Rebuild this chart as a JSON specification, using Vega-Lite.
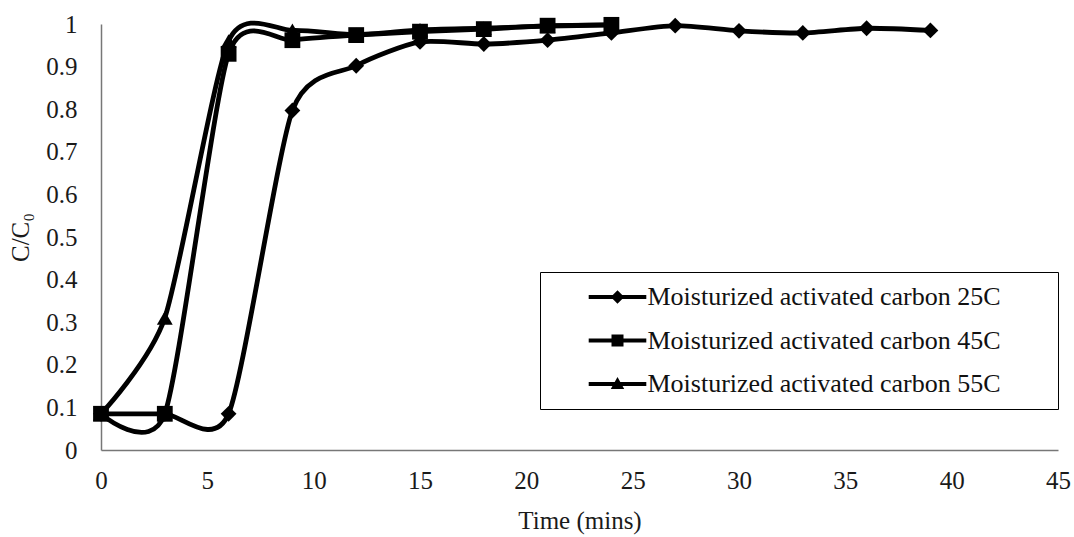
{
  "$schema": "https://vega.github.io/schema/vega-lite/v6.json",
  "width": 957,
  "height": 426,
  "autosize": {"type": "none"},
  "padding": {"left": 101, "top": 24, "right": 16, "bottom": 87},
  "background": "white",
  "config": {
    "view": {"stroke": null},
    "font": "Liberation Serif",
    "axis": {"labelFont": "Liberation Serif", "titleFont": "Liberation Serif", "labelColor": "#1a1a1a", "titleColor": "#1a1a1a", "titleFontWeight": "normal", "grid": false, "ticks": false, "domainColor": "#777", "domainWidth": 1.5}
  },
  "data": {
    "values": [
      {"series": "Moisturized activated carbon 25C", "time": 0, "c": 0.085},
      {"series": "Moisturized activated carbon 25C", "time": 3, "c": 0.085},
      {"series": "Moisturized activated carbon 25C", "time": 6, "c": 0.085},
      {"series": "Moisturized activated carbon 25C", "time": 9, "c": 0.797},
      {"series": "Moisturized activated carbon 25C", "time": 12, "c": 0.902},
      {"series": "Moisturized activated carbon 25C", "time": 15, "c": 0.958},
      {"series": "Moisturized activated carbon 25C", "time": 18, "c": 0.953},
      {"series": "Moisturized activated carbon 25C", "time": 21, "c": 0.962},
      {"series": "Moisturized activated carbon 25C", "time": 24, "c": 0.979},
      {"series": "Moisturized activated carbon 25C", "time": 27, "c": 0.996},
      {"series": "Moisturized activated carbon 25C", "time": 30, "c": 0.984},
      {"series": "Moisturized activated carbon 25C", "time": 33, "c": 0.979},
      {"series": "Moisturized activated carbon 25C", "time": 36, "c": 0.99},
      {"series": "Moisturized activated carbon 25C", "time": 39, "c": 0.985},
      {"series": "Moisturized activated carbon 45C", "time": 0, "c": 0.085},
      {"series": "Moisturized activated carbon 45C", "time": 3, "c": 0.085},
      {"series": "Moisturized activated carbon 45C", "time": 6, "c": 0.93},
      {"series": "Moisturized activated carbon 45C", "time": 9, "c": 0.962},
      {"series": "Moisturized activated carbon 45C", "time": 12, "c": 0.974},
      {"series": "Moisturized activated carbon 45C", "time": 15, "c": 0.982},
      {"series": "Moisturized activated carbon 45C", "time": 18, "c": 0.988},
      {"series": "Moisturized activated carbon 45C", "time": 21, "c": 0.996},
      {"series": "Moisturized activated carbon 45C", "time": 24, "c": 0.998},
      {"series": "Moisturized activated carbon 55C", "time": 0, "c": 0.085},
      {"series": "Moisturized activated carbon 55C", "time": 3, "c": 0.31},
      {"series": "Moisturized activated carbon 55C", "time": 6, "c": 0.96},
      {"series": "Moisturized activated carbon 55C", "time": 9, "c": 0.985},
      {"series": "Moisturized activated carbon 55C", "time": 12, "c": 0.975},
      {"series": "Moisturized activated carbon 55C", "time": 15, "c": 0.986},
      {"series": "Moisturized activated carbon 55C", "time": 18, "c": 0.99},
      {"series": "Moisturized activated carbon 55C", "time": 21, "c": 0.995},
      {"series": "Moisturized activated carbon 55C", "time": 24, "c": 0.998}
    ]
  },
  "encoding": {
    "x": {"field": "time", "type": "quantitative", "scale": {"domain": [0, 45], "nice": false, "zero": false},
      "axis": {"values": [0, 5, 10, 15, 20, 25, 30, 35, 40, 45], "title": "Time (mins)", "labelFontSize": 25, "titleFontSize": 25, "labelPadding": 18, "titlePadding": 15, "labelFlush": false}},
    "y": {"field": "c", "type": "quantitative", "scale": {"domain": [0, 1], "nice": false},
      "axis": {"values": [0, 0.1, 0.2, 0.3, 0.4, 0.5, 0.6, 0.7, 0.8, 0.9, 1], "format": ".1~f", "title": "C/C₀", "labelFontSize": 25, "titleFontSize": 25, "labelPadding": 24, "titlePadding": 12, "labelFlush": false}}
  },
  "layer": [
    {
      "mark": {"type": "line", "interpolate": "cardinal", "tension": 0.3, "color": "black", "strokeWidth": 4.8},
      "encoding": {"detail": {"field": "series"}}
    },
    {
      "mark": {"type": "point", "filled": true, "color": "black", "opacity": 1, "size": 250},
      "encoding": {"shape": {"field": "series", "type": "nominal", "scale": {"range": ["diamond", "square", "triangle-up"]}, "legend": null}}
    },
    {
      "mark": {"type": "point", "filled": true, "color": "black", "opacity": 0, "size": 576},
      "encoding": {"shape": {"field": "series", "type": "nominal",
        "scale": {"range": [
          "M-2.4,-0.17L2.4,-0.17L2.4,0.17L-2.4,0.17ZM0,-0.56L0.56,0L0,0.56L-0.56,0Z",
          "M-2.4,-0.17L2.4,-0.17L2.4,0.17L-2.4,0.17ZM-0.5,-0.5L0.5,-0.5L0.5,0.5L-0.5,0.5Z",
          "M-2.4,-0.17L2.4,-0.17L2.4,0.17L-2.4,0.17ZM0,-0.58L0.56,0.42L-0.56,0.42Z"
        ]},
        "legend": {"title": "i", "titleOrient": "right", "titleColor": "white", "titleFontSize": 10, "titlePadding": 42, "orient": "none", "legendX": 439, "legendY": 248, "strokeColor": "black", "fillColor": "white", "padding": 12, "rowPadding": 17.5, "labelFont": "Liberation Serif", "labelFontSize": 26, "labelColor": "#111", "labelLimit": 1000, "symbolSize": 576, "symbolOffset": 52.5, "labelOffset": 17, "symbolOpacity": 1, "symbolFillColor": "black", "symbolStrokeWidth": 0}}}
    }
  ],
  "resolve": {"scale": {"shape": "independent"}}
}
